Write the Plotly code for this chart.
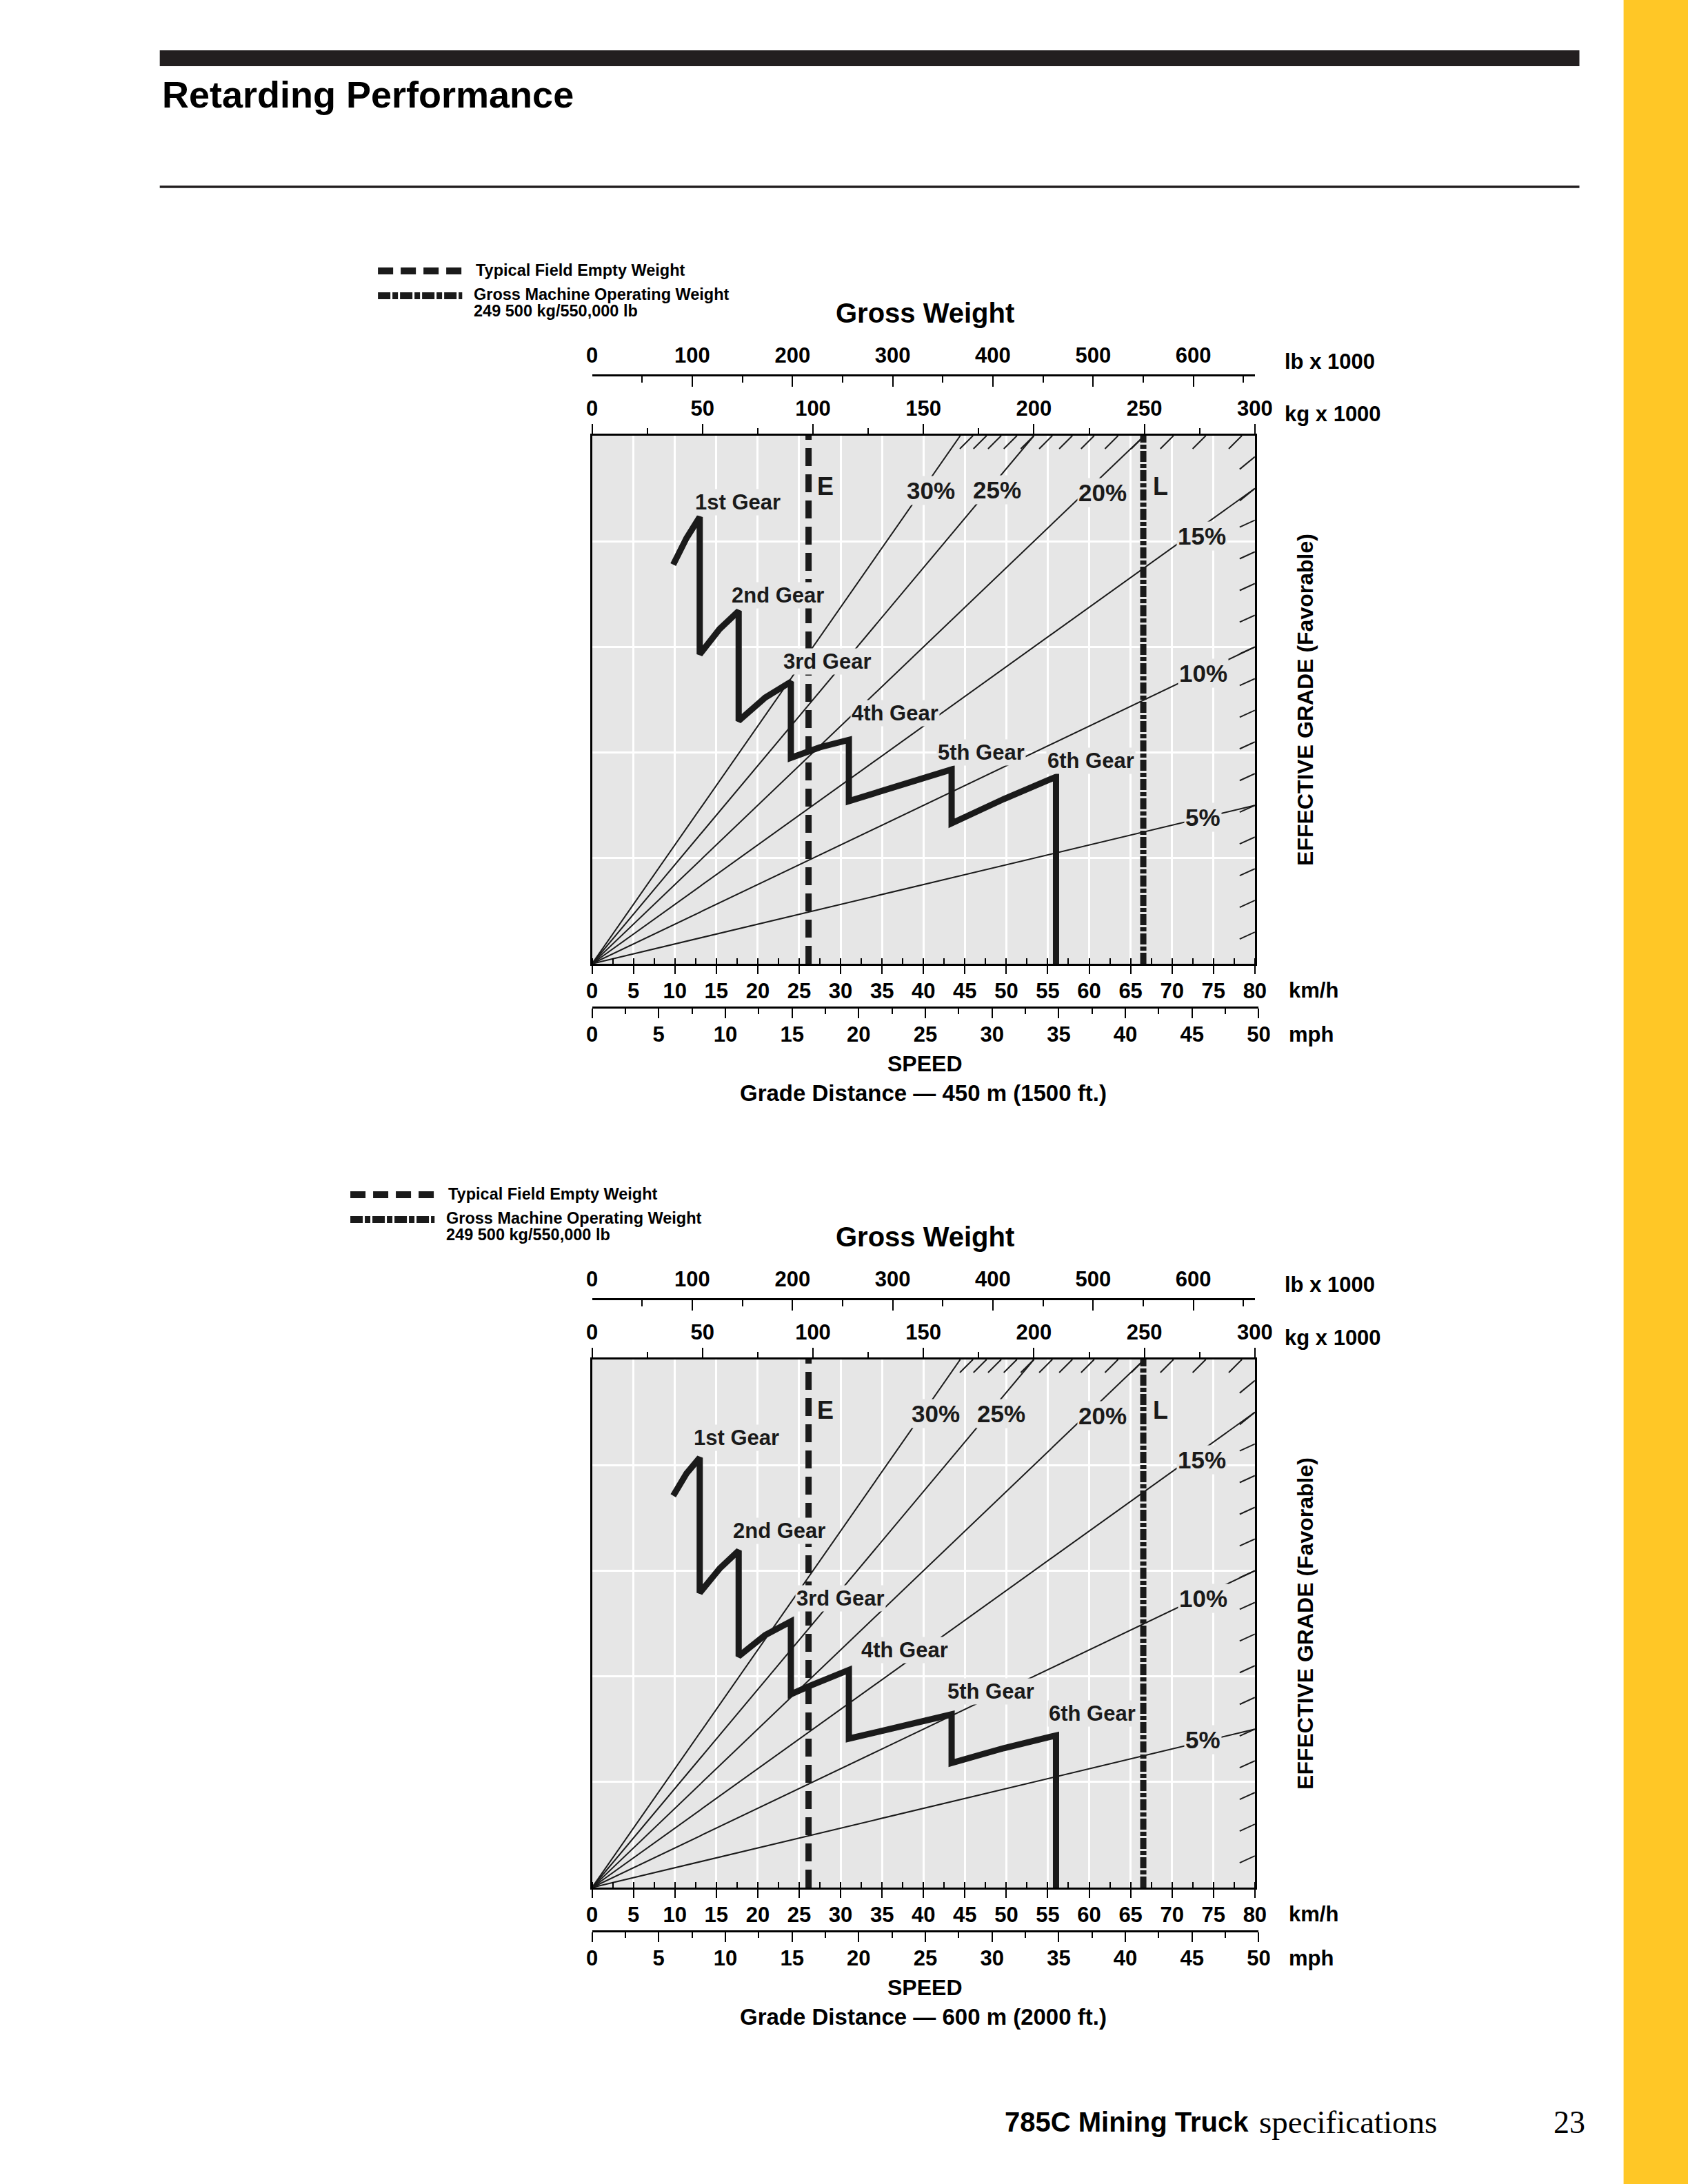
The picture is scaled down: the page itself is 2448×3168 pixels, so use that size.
import plotly.graph_objects as go

W, H = 2448, 3168
# horizontal mapping observed in the photographed page (page px -> picture px)
CAP_OFF, CAP_SCALE = 9.6, 0.9846
FIG_W = 2490          # a little wider than the window so the yellow band reaches the edge

SANS = "Liberation Sans, Arial, Helvetica, sans-serif"
SERIF = "Liberation Serif, Times New Roman, serif"
BG = "#e6e6e6"

# ---------------- data ----------------
speed_kmh_range = [0, 80]          # km/h
speed_mph_range = [0, 50]          # mph
weight_kg_range = [0, 300]         # kg x 1000
force_range = [0, 50]              # gross weight x grade (kg x 1000)
KG_PER_LB = 0.45359237
KMH_PER_MPH = 1.609344

grade_lines = [5, 10, 15, 20, 25, 30]          # %
grade_labels = ["5%", "10%", "15%", "20%", "25%", "30%"]
grade_hatch = list(range(1, 30))               # % hatch marks on the border
empty_weight = 98.0                            # E  (kg x 1000)
gmw_weight = 249.5                             # L  (kg x 1000)

gear_names = ["1st Gear", "2nd Gear", "3rd Gear", "4th Gear", "5th Gear", "6th Gear"]

# Grade distance 450 m (1500 ft.)
c1_speed = [9.8, 11.4, 13.0, 13.0, 15.4, 17.7, 17.7, 20.9, 24.0, 24.0, 27.5, 31.0,
            31.0, 37.2, 43.4, 43.4, 49.7, 56.0, 56.0]
c1_force = [37.8, 40.3, 42.3, 29.3, 31.7, 33.4, 23.0, 25.2, 26.7, 19.5, 20.5, 21.2,
            15.4, 16.9, 18.4, 13.3, 15.6, 17.7, 0.0]

# Grade distance 600 m (2000 ft.)
c2_speed = [9.8, 11.4, 13.0, 13.0, 15.4, 17.7, 17.7, 20.9, 24.0, 24.0, 26.3, 31.0,
            31.0, 37.2, 43.4, 43.4, 49.7, 56.0, 56.0]
c2_force = [37.1, 39.2, 40.7, 27.9, 30.2, 31.9, 21.9, 23.9, 25.2, 18.3, 19.1, 20.6,
            14.1, 15.3, 16.4, 11.8, 13.2, 14.4, 0.0]

# ---------------- label placement (km/h, force) ----------------
c1_gear_pos = [(17.6, 43.7), (22.4, 34.9), (28.4, 28.6), (36.6, 23.7), (47.0, 20.0), (60.2, 19.2)]
c2_gear_pos = [(17.4, 42.6), (22.6, 33.8), (30.0, 27.4), (37.7, 22.5), (48.1, 18.6), (60.4, 16.5)]
c1_grade_pos = [(73.7, 13.9), (73.8, 27.5), (73.6, 40.5), (61.6, 44.6), (48.9, 44.9), (40.9, 44.8)]
c2_grade_pos = [(73.7, 14.0), (73.8, 27.4), (73.6, 40.5), (61.6, 44.7), (49.4, 44.9), (41.5, 44.9)]
EL_pos = [(28.2, 45.2), (68.6, 45.2)]

PX0, PX1 = 858, 1818
PTOP, PBOT = 632, 1398


def px(x):
    return ((x - CAP_OFF) / CAP_SCALE) / FIG_W


def py(y):
    return 1 - y / H


def xname(i):
    return "x" if i == 1 else f"x{i}"


def yname(i):
    return "y" if i == 1 else f"y{i}"


def xkey(i):
    return "xaxis" if i == 1 else f"xaxis{i}"


def ykey(i):
    return "yaxis" if i == 1 else f"yaxis{i}"


fig = go.Figure()
layout_axes = {}
annotations = []
shapes = []

tickfont = dict(family=SANS, size=31, color="black", weight="bold")


def ann_paper(text, x, y, size, xanchor="center", family=SANS, bold=True, angle=0):
    annotations.append(dict(
        text=text, x=px(x), y=py(y), xref="paper", yref="paper",
        xanchor=xanchor, yanchor="middle", showarrow=False, textangle=angle,
        font=dict(family=family, size=size, color="black",
                  weight="bold" if bold else "normal")))


def dummy(xa, ya):
    fig.add_trace(go.Scatter(x=[0], y=[0], mode="markers", xaxis=xa, yaxis=ya,
                             marker=dict(opacity=0), hoverinfo="skip", showlegend=False))


def chart(n, dy, speed, force, gear_pos, grade_pos, dist_text, leg_dx):
    ikmh, imph, ikg, ilb = 4 * n + 1, 4 * n + 2, 4 * n + 3, 4 * n + 4
    iy, iyd = 2 * n + 1, 2 * n + 2
    top, bot = PTOP + dy, PBOT + dy
    dom_x = [px(PX0), px(PX1)]
    dom_y = [py(bot), py(top)]

    layout_axes[xkey(ikmh)] = dict(
        domain=dom_x, range=speed_kmh_range, anchor=yname(iy), side="bottom",
        showline=True, linecolor="black", linewidth=3,
        ticks="outside", ticklen=12, tickwidth=2, tickcolor="black",
        tick0=0, dtick=5, tickfont=tickfont, ticklabelstandoff=-2,
        showgrid=True, gridcolor="white", gridwidth=3, zeroline=False,
        minor=dict(dtick=2.5, tick0=0, ticks="inside", ticklen=8, tickwidth=2,
                   tickcolor="black", showgrid=False))
    mph_end = PX0 + (PX1 - PX0) * speed_mph_range[1] * KMH_PER_MPH / speed_kmh_range[1]
    layout_axes[xkey(imph)] = dict(
        domain=[px(PX0), px(mph_end)], range=speed_mph_range, anchor="free",
        position=py(1461 + dy), side="bottom",
        showline=True, linecolor="black", linewidth=3,
        ticks="outside", ticklen=14, tickwidth=2, tickcolor="black",
        tick0=0, dtick=5, tickfont=tickfont, ticklabelstandoff=-3,
        showgrid=False, zeroline=False,
        minor=dict(dtick=2.5, tick0=0, ticks="outside", ticklen=8, tickwidth=2,
                   tickcolor="black", showgrid=False))
    layout_axes[xkey(ikg)] = dict(
        overlaying=xname(ikmh), anchor=yname(iy), side="top", range=weight_kg_range,
        showline=True, linecolor="black", linewidth=3,
        ticks="outside", ticklen=14, tickwidth=2, tickcolor="black",
        tick0=0, dtick=50, tickfont=tickfont, ticklabelstandoff=0,
        showgrid=False, zeroline=False,
        minor=dict(dtick=25, tick0=0, ticks="outside", ticklen=8, tickwidth=2,
                   tickcolor="black", showgrid=False))
    layout_axes[xkey(ilb)] = dict(
        overlaying=xname(ikmh), anchor="free", position=py(544 + dy), side="top",
        range=[0, weight_kg_range[1] / KG_PER_LB],
        showline=True, linecolor="black", linewidth=3,
        ticks="inside", ticklen=15, tickwidth=2, tickcolor="black",
        tick0=0, dtick=100, tickfont=tickfont, ticklabelstandoff=5,
        showgrid=False, zeroline=False,
        minor=dict(dtick=50, tick0=0, ticks="inside", ticklen=9, tickwidth=2,
                   tickcolor="black", showgrid=False))
    layout_axes[ykey(iy)] = dict(
        domain=dom_y, range=force_range, anchor=xname(ikmh),
        showticklabels=False, ticks="", showline=True, mirror=True,
        linecolor="black", linewidth=3, showgrid=True, gridcolor="white",
        gridwidth=3, dtick=10, zeroline=False)
    layout_axes[ykey(iyd)] = dict(domain=dom_y, range=[0, 1], anchor="free",
                                  position=0, visible=False, showgrid=False)

    shapes.append(dict(type="rect", xref=f"{xname(ikmh)} domain", yref=f"{yname(iy)} domain",
                       x0=0, x1=1, y0=0, y1=1, fillcolor=BG, line=dict(width=0),
                       layer="below"))

    # gear retarding curve
    fig.add_trace(go.Scatter(x=speed, y=force, mode="lines", xaxis=xname(ikmh), yaxis=yname(iy),
                             line=dict(color="#1a1a1a", width=9), hoverinfo="skip",
                             showlegend=False))
    # keep the mph and lb axes alive
    dummy(xname(imph), yname(iyd))
    dummy(xname(ilb), yname(iy))

    # grade lines (force = weight x grade)
    gx, gy = [], []
    for g in grade_lines:
        w_end = min(weight_kg_range[1], force_range[1] / (g / 100))
        gx += [0, w_end, None]
        gy += [0, w_end * g / 100, None]
    fig.add_trace(go.Scatter(x=gx, y=gy, mode="lines", xaxis=xname(ikg), yaxis=yname(iy),
                             line=dict(color="#1a1a1a", width=2), hoverinfo="skip",
                             showlegend=False))
    # hatch marks on the border
    kg_per_px = (weight_kg_range[1] - weight_kg_range[0]) / (PX1 - PX0)
    f_per_px = (force_range[1] - force_range[0]) / (PBOT - PTOP)
    hx, hy = [], []
    for g in grade_hatch:
        w_end = min(weight_kg_range[1], force_range[1] / (g / 100))
        f_end = w_end * g / 100
        if w_end >= weight_kg_range[1]:
            ddx, ddy = 22, 10 if g < 15 else 18
        else:
            ddx, ddy = 19, 19
        hx += [w_end, w_end - ddx * kg_per_px, None]
        hy += [f_end, f_end - ddy * f_per_px, None]
    fig.add_trace(go.Scatter(x=hx, y=hy, mode="lines", xaxis=xname(ikg), yaxis=yname(iy),
                             line=dict(color="#1a1a1a", width=2), hoverinfo="skip",
                             showlegend=False))
    # E and L weight lines
    fig.add_trace(go.Scatter(x=[empty_weight, empty_weight], y=force_range, mode="lines",
                             xaxis=xname(ikg), yaxis=yname(iy),
                             line=dict(color="#1a1a1a", width=9, dash="26px,12px"),
                             hoverinfo="skip", showlegend=False))
    fig.add_trace(go.Scatter(x=[gmw_weight, gmw_weight], y=force_range, mode="lines",
                             xaxis=xname(ikg), yaxis=yname(iy),
                             line=dict(color="#1a1a1a", width=9, dash="16px,3px,6px,3px"),
                             hoverinfo="skip", showlegend=False))

    # labels inside the chart
    def ann_data(text, x, y, size):
        annotations.append(dict(text=text, x=x, y=y, xref=xname(ikmh), yref=yname(iy),
                                showarrow=False, xanchor="center", yanchor="middle",
                                bgcolor=BG, borderpad=1,
                                font=dict(family=SANS, size=size, color="#1a1a1a", weight="bold")))

    for name, (x, y) in zip(gear_names, gear_pos):
        ann_data(name, x, y, 31)
    for lab, (x, y) in zip(grade_labels, grade_pos):
        ann_data(lab, x, y, 35)
    for lab, (x, y) in zip(["E", "L"], EL_pos):
        ann_data(lab, x, y, 36)

    # texts around the chart
    ann_paper("Gross Weight", 1340, 454 + dy, 40)
    ann_paper("lb x 1000", 1859, 524 + dy, 31, xanchor="left")
    ann_paper("kg x 1000", 1859, 600 + dy, 31, xanchor="left")
    ann_paper("km/h", 1865, 1436 + dy, 31, xanchor="left")
    ann_paper("mph", 1865, 1500 + dy, 31, xanchor="left")
    ann_paper("SPEED", 1340, 1543 + dy, 32)
    ann_paper(dist_text, 1338, 1585 + dy, 33)
    ann_paper("EFFECTIVE GRADE (Favorable)", 1891, 1015 + dy, 32, angle=-90)

    # legend
    lx0, lx1 = 548 + leg_dx, 670 + leg_dx
    shapes.append(dict(type="line", xref="paper", yref="paper", x0=px(lx0), x1=px(lx1),
                       y0=py(393 + dy), y1=py(393 + dy),
                       line=dict(color="#1a1a1a", width=10, dash="22px,11px")))
    shapes.append(dict(type="line", xref="paper", yref="paper", x0=px(lx0), x1=px(lx1),
                       y0=py(429 + dy), y1=py(429 + dy),
                       line=dict(color="#1a1a1a", width=10, dash="18px,3px,8px,3px")))
    ann_paper("Typical Field Empty Weight", 688 + leg_dx, 392 + dy, 23.5, xanchor="left")
    ann_paper("Gross Machine Operating Weight", 685 + leg_dx, 427 + dy, 23.5, xanchor="left")
    ann_paper("249 500 kg/550,000 lb", 685 + leg_dx, 451 + dy, 23.5, xanchor="left")


chart(0, 0, c1_speed, c1_force, c1_gear_pos, c1_grade_pos,
      "Grade Distance \u2014 450 m (1500 ft.)", 0)
chart(1, 1340, c2_speed, c2_force, c2_gear_pos, c2_grade_pos,
      "Grade Distance \u2014 600 m (2000 ft.)", -40)

# page decoration
shapes.append(dict(type="rect", xref="paper", yref="paper", x0=px(232), x1=px(2288),
                   y0=py(96), y1=py(73), fillcolor="#231f20", line=dict(width=0)))
shapes.append(dict(type="line", xref="paper", yref="paper", x0=px(232), x1=px(2288),
                   y0=py(271), y1=py(271), line=dict(color="#231f20", width=3.5)))
shapes.append(dict(type="rect", xref="paper", yref="paper", x0=px(2352), x1=1,
                   y0=0, y1=1, fillcolor="#ffc726", line=dict(width=0)))
ann_paper("Retarding Performance", 233, 137, 54, xanchor="left")
ann_paper("785C Mining Truck", 1811, 3078, 40, xanchor="right")
ann_paper("specifications", 1822, 3078, 47, xanchor="left", family=SERIF, bold=False)
ann_paper("23", 2274, 3078, 46, family=SERIF, bold=False)

fig.update_layout(
    width=FIG_W, height=H, autosize=False, margin=dict(l=0, r=0, t=0, b=0, pad=0),
    paper_bgcolor="white", plot_bgcolor="rgba(0,0,0,0)",
    showlegend=False, annotations=annotations, shapes=shapes,
    **layout_axes)

fig.write_html("out.html", config={"displayModeBar": False, "responsive": False},
               post_script="document.body.style.margin='0';"
                           "document.documentElement.style.overflow='hidden';")
